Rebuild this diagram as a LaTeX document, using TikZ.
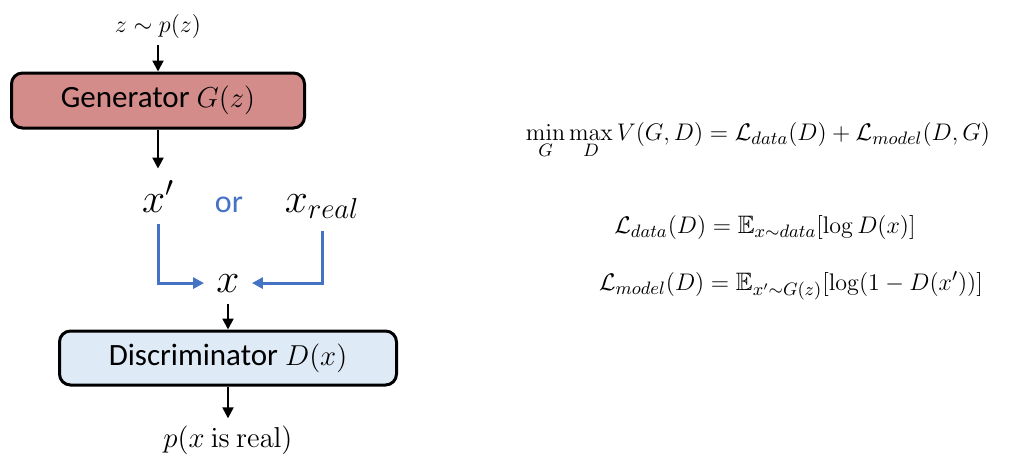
\documentclass[tikz,border=0pt]{standalone}
\usepackage{amsmath,amssymb}
\usepackage[no-math]{fontspec}
\setmainfont{Carlito}
\usetikzlibrary{positioning,arrows.meta}
\definecolor{genred}{HTML}{D48C8A}
\definecolor{discblue}{HTML}{DEEAF6}
\definecolor{orblue}{HTML}{4472C4}
\begin{document}
\begin{tikzpicture}[x=0.5pt,y=-0.5pt,>={Stealth[length=5.5pt,width=5.5pt,inset=0pt]},
	box/.style={draw,line width=1.5pt,rounded corners=5.5pt,font=\fontsize{15.5}{18}\selectfont},
	lbl/.style={anchor=base,font=\fontsize{12}{14}\selectfont},
	var/.style={anchor=base,inner sep=6pt,font=\fontsize{20}{24}\selectfont},
	eqn/.style={anchor=base,font=\fontsize{12.6}{15}\selectfont},
	arr/.style={->,line width=1.1pt},
	sel/.style={->,line width=1.5pt,color=orblue}]
	\useasboundingbox (0,0) rectangle (1018,456);
	% left: generator / discriminator
	\node[lbl] (noise) at (158,32) {$z\sim p(z)$};
	\node[box,fill=genred,minimum width=146.5pt,minimum height=27.5pt] (gen) at (158,100.5) {Generator $G(z)$};
	\node[var] (xfake) at (158,212) {$x'$};
	\node[anchor=base,color=orblue,font=\fontsize{16}{19}\selectfont] (or) at (229,212) {or};
	\node[var] (xreal) at (322,212) {$x_{real}$};
	\node[var] (xin) at (228,292) {$x$};
	\node[box,fill=discblue,minimum width=168.5pt,minimum height=27pt] (disc) at (228,358) {Discriminator $D(x)$};
	\node[lbl,font=\fontsize{14}{16}\selectfont] (prob) at (228,447) {$p(x\mathrm{\ is\ real})$};
	\draw[arr] (noise) -- (gen);
	\draw[arr] (gen) -- (xfake);
	\draw[sel] (xfake) |- (xin);
	\draw[sel] (xreal) |- (xin);
	\draw[arr] (xin) -- (disc);
	\draw[arr] (disc) -- (prob);
	% right: objective
	\node[eqn] (obj) at (758,140) {$\min\limits_G\max\limits_D V(G,D)=\mathcal{L}_{data}(D)+\mathcal{L}_{model}(D,G)$};
	\node[eqn] (ldata) at (765,233) {$\mathcal{L}_{data}(D)=\mathbb{E}_{x\sim data}[\log D(x)]$};
	\node[eqn] (lmodel) at (791,290) {$\mathcal{L}_{model}(D)=\mathbb{E}_{x'\sim G(z)}[\log(1-D(x'))]$};
\end{tikzpicture}
\end{document}
